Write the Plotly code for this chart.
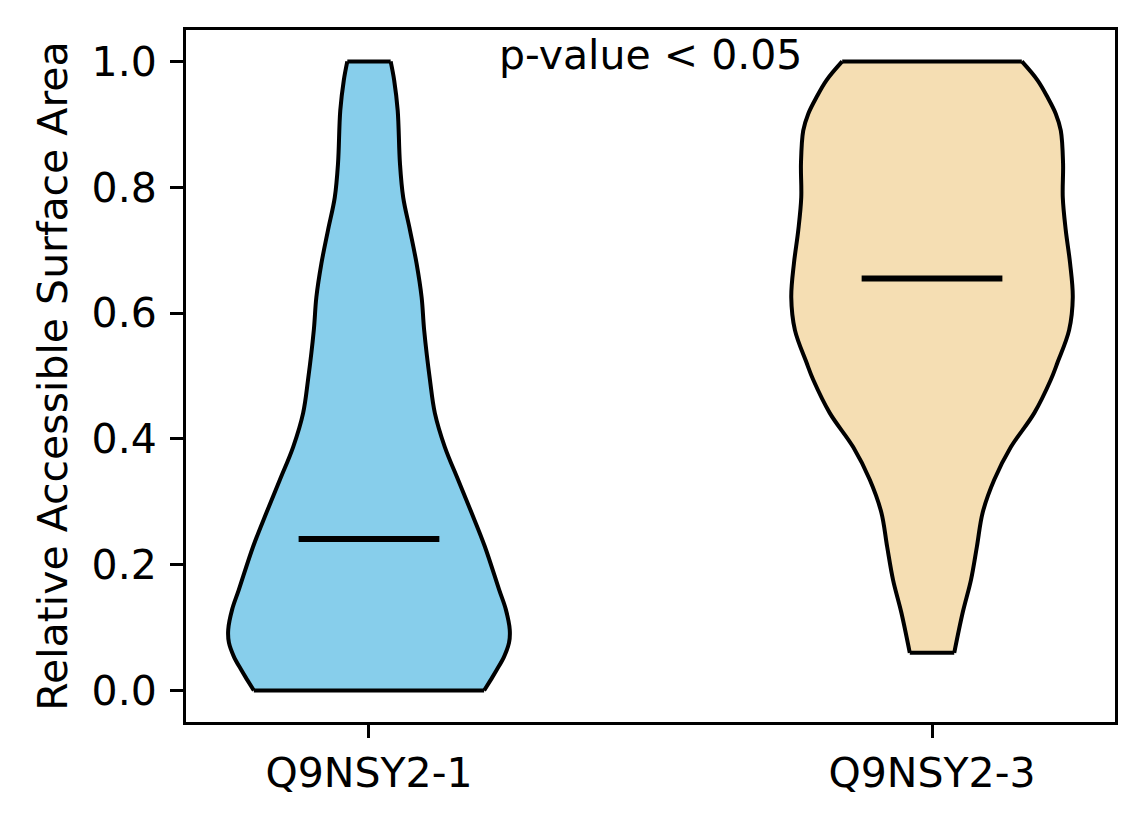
import plotly.graph_objects as go

# ---- data ----
categories = ["Q9NSY2-1", "Q9NSY2-3"]
positions = [1, 2]
medians = [0.241, 0.655]

# violin 1 outline: y levels and relative density (max = 1)
v1_y = [0.000, 0.017, 0.033, 0.054, 0.076, 0.097, 0.129, 0.160, 0.229, 0.283, 0.335,
        0.387, 0.441, 0.494, 0.573, 0.625, 0.679, 0.732, 0.784, 0.838, 0.922, 0.970, 1.000]
v1_density = [0.818, 0.865, 0.908, 0.960, 0.995, 1.000, 0.972, 0.925, 0.823, 0.728, 0.633,
              0.539, 0.468, 0.433, 0.392, 0.374, 0.338, 0.291, 0.243, 0.220, 0.204, 0.179, 0.154]

# violin 2 outline
v2_y = [0.060, 0.124, 0.176, 0.229, 0.283, 0.335, 0.387, 0.441, 0.494, 0.521,
        0.573, 0.625, 0.679, 0.732, 0.784, 0.838, 0.890, 0.917, 0.943, 0.970, 1.000]
v2_density = [0.158, 0.218, 0.277, 0.319, 0.360, 0.442, 0.560, 0.726, 0.844, 0.891,
              0.974, 1.000, 0.981, 0.950, 0.929, 0.931, 0.915, 0.879, 0.821, 0.750, 0.638]

colors = ["#87CEEB", "#F5DEB3"]
annotation_text = "p-value < 0.05"
y_title = "Relative Accessible Surface Area"
y_ticks = [0.0, 0.2, 0.4, 0.6, 0.8, 1.0]

MAX_HALF = 0.25   # half of violin width
MED_HALF = 0.125  # half length of median line
FONT = "DejaVu Sans"
FS = 41

fig = go.Figure()
profiles = [(v1_y, v1_density), (v2_y, v2_density)]
for pos, (ys, ds), col in zip(positions, profiles, colors):
    right_x = [pos + d * MAX_HALF for d in ds]
    left_x = [pos - d * MAX_HALF for d in ds]
    ys = list(ys)
    # filled body
    fig.add_trace(go.Scatter(
        x=right_x + left_x[::-1], y=ys + ys[::-1], mode="lines",
        fill="toself", fillcolor=col, line=dict(width=0, color=col),
        showlegend=False, hoverinfo="skip"))
    # smooth sides
    fig.add_trace(go.Scatter(
        x=right_x + [None] + left_x, y=ys + [None] + ys, mode="lines",
        line=dict(color="black", width=4, shape="spline", smoothing=1),
        showlegend=False, hoverinfo="skip"))
    # flat ends
    fig.add_trace(go.Scatter(
        x=[left_x[0], right_x[0], None, left_x[-1], right_x[-1]],
        y=[ys[0], ys[0], None, ys[-1], ys[-1]], mode="lines",
        line=dict(color="black", width=4),
        showlegend=False, hoverinfo="skip"))

for pos, med in zip(positions, medians):
    fig.add_trace(go.Scatter(
        x=[pos - MED_HALF, pos + MED_HALF], y=[med, med], mode="lines",
        line=dict(color="black", width=6), showlegend=False, hoverinfo="skip"))

fig.add_annotation(x=1.5, y=1.01, xref="x", yref="y", text=annotation_text,
                   showarrow=False, xanchor="center", yanchor="middle",
                   font=dict(family=FONT, size=FS, color="black"))

axis_common = dict(showline=True, mirror=True, linecolor="black", linewidth=3,
                   ticks="outside", ticklen=13, tickwidth=3, tickcolor="black",
                   showgrid=False, zeroline=False,
                   tickfont=dict(family=FONT, size=FS, color="black"))

fig.update_xaxes(range=[0.675, 2.325], tickvals=positions, ticktext=categories,
                 **axis_common)
fig.update_yaxes(range=[-0.05, 1.05], tickvals=y_ticks, tickformat=".1f",
                 ticklabelstandoff=5,
                 title=dict(text=y_title, font=dict(family=FONT, size=FS, color="black"),
                            standoff=12),
                 **axis_common)

fig.update_layout(width=1136, height=816,
                  margin=dict(l=178, r=29, t=22, b=102),
                  plot_bgcolor="white", paper_bgcolor="white",
                  font=dict(family=FONT, size=FS, color="black"))

fig.write_html("out.html")
